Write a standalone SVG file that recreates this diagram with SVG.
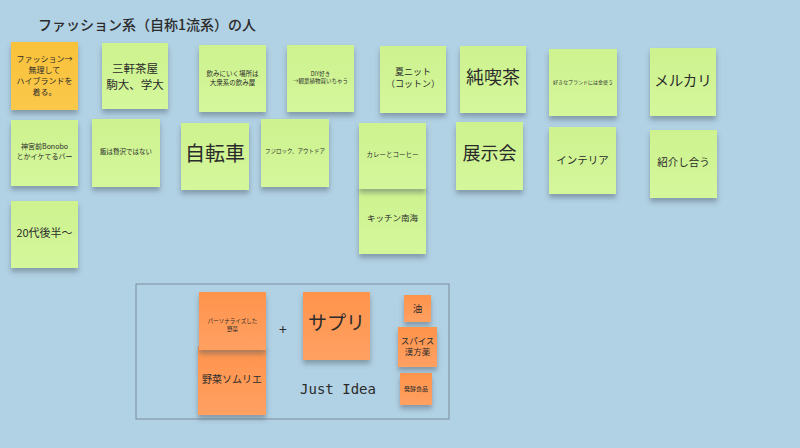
<svg xmlns="http://www.w3.org/2000/svg" width="800" height="448" viewBox="0 0 800 448">
<defs>
<filter id="sh" x="-20%" y="-20%" width="140%" height="150%">
<feDropShadow dx="0" dy="4" stdDeviation="2.5" flood-color="#4a5a66" flood-opacity="0.45"/>
</filter>
<linearGradient id="g" x1="0" y1="0" x2="0" y2="1">
<stop offset="0" stop-color="#cdf28e"/>
<stop offset="1" stop-color="#d4f79c"/>
</linearGradient>
<linearGradient id="o" x1="0" y1="0" x2="0" y2="1">
<stop offset="0" stop-color="#ff944c"/>
<stop offset="1" stop-color="#ffa062"/>
</linearGradient>
<linearGradient id="y" x1="0" y1="0" x2="0" y2="1">
<stop offset="0" stop-color="#f9c23a"/>
<stop offset="1" stop-color="#fbc84a"/>
</linearGradient>
</defs>
<style>
text{font-family:"Noto Sans CJK JP","Noto Sans",sans-serif;fill:#2b2b2b;text-anchor:middle;}
.g{fill:url(#g);filter:url(#sh);}
.o{fill:url(#o);filter:url(#sh);}
.y{fill:url(#y);filter:url(#sh);}
</style>
<rect width="800" height="448" fill="#b1d1e4"/>
<text x="38" y="30" style="text-anchor:start;font-size:14px;font-weight:500">ファッション系（自称1流系）の人</text>

<g id="n1"><rect class="y" x="11" y="42" width="67" height="68"/>
<text x="44.5" y="62" font-size="8">ファッション→</text><text x="44.5" y="73" font-size="8">無理して</text><text x="44.5" y="84" font-size="8">ハイブランドを</text><text x="44.5" y="95" font-size="8">着る。</text></g>
<g id="n2"><rect class="g" x="102" y="43" width="66" height="66"/>
<text x="135" y="73" font-size="11.5">三軒茶屋</text><text x="135" y="89" font-size="11.5">駒大、学大</text></g>
<g id="n3"><rect class="g" x="199" y="45" width="67" height="67"/>
<text x="232.5" y="76" font-size="6.5">飲みにいく場所は</text><text x="232.5" y="85" font-size="6.5">大衆系の飲み屋</text></g>
<g id="n4"><rect class="g" x="287" y="45" width="67" height="67"/>
<text x="320.5" y="76" font-size="5.5">DIY好き</text><text x="320.5" y="83" font-size="5.5">→観葉植物買いちゃう</text></g>
<g id="n5"><rect class="g" x="380" y="46" width="66" height="67"/>
<text x="413" y="75" font-size="9">夏ニット</text><text x="413" y="87" font-size="9">（コットン）</text></g>
<g id="n6"><rect class="g" x="460" y="46" width="66" height="67"/>
<text x="493" y="84" font-size="18">純喫茶</text></g>
<g id="n7"><rect class="g" x="549" y="49" width="68" height="67"/>
<text x="583" y="84" font-size="5">好きなブランドには金使う</text></g>
<g id="n8"><rect class="g" x="650" y="48" width="66" height="68"/>
<text x="683" y="86" font-size="14.5">メルカリ</text></g>

<g id="n9"><rect class="g" x="11" y="120" width="67" height="66"/>
<text x="44.5" y="149" font-size="7">神宮前Bonobo</text><text x="44.5" y="159" font-size="7">とかイケてるバー</text></g>
<g id="n10"><rect class="g" x="92" y="119" width="68" height="68"/>
<text x="126" y="154" font-size="6.5">飯は贅沢ではない</text></g>
<g id="n11"><rect class="g" x="181" y="123" width="68" height="67"/>
<text x="215" y="161" font-size="20">自転車</text></g>
<g id="n12"><rect class="g" x="261" y="119" width="68" height="68"/>
<text x="295" y="153" font-size="5.5">フジロック、アウトドア</text></g>
<g id="n13"><rect class="g" x="359" y="185" width="67" height="69"/>
<text x="392.5" y="221" font-size="8.5">キッチン南海</text></g>
<g id="n14"><rect class="g" x="359" y="123" width="67" height="66"/>
<text x="392.5" y="157" font-size="6.5">カレーとコーヒー</text></g>
<g id="n15"><rect class="g" x="456" y="122" width="67" height="68"/>
<text x="489.5" y="160" font-size="18">展示会</text></g>
<g id="n16"><rect class="g" x="549" y="127" width="67" height="67"/>
<text x="582.5" y="164" font-size="10.5">インテリア</text></g>
<g id="n17"><rect class="g" x="650" y="130" width="67" height="68"/>
<text x="683.5" y="166" font-size="10.5">紹介し合う</text></g>
<g id="n18"><rect class="g" x="11" y="201" width="67" height="67"/>
<text x="44.5" y="237" font-size="11">20代後半〜</text></g>

<g id="box"><rect x="136" y="284" width="313" height="135" fill="none" stroke="#7d8e9c" stroke-width="1"/></g>
<g id="n19"><rect class="o" x="198" y="346" width="68" height="69"/>
<text x="232" y="383" font-size="10">野菜ソムリエ</text></g>
<g id="n20"><rect class="o" x="199" y="292" width="67" height="58"/>
<text x="232.5" y="323" font-size="5.5">パーソナライズした</text><text x="232.5" y="331" font-size="5.5">野菜</text></g>
<text x="283" y="335" font-size="14">+</text>
<g id="n21"><rect class="o" x="303" y="292" width="67" height="68"/>
<text x="336.5" y="330" font-size="19">サプリ</text></g>
<g id="n22"><rect class="o" x="404" y="295" width="27" height="27"/>
<text x="417.5" y="312" font-size="9.5">油</text></g>
<g id="n23"><rect class="o" x="398" y="327" width="39" height="40"/>
<text x="417.5" y="344" font-size="8.5">スパイス</text><text x="417.5" y="355" font-size="8.5">漢方薬</text></g>
<g id="n24"><rect class="o" x="400" y="373" width="32" height="32"/>
<text x="416" y="391" font-size="6">発酵食品</text></g>
<text x="338" y="394" font-size="14" style="font-family:'DejaVu Sans Mono','Liberation Mono',monospace">Just Idea</text>
</svg>
